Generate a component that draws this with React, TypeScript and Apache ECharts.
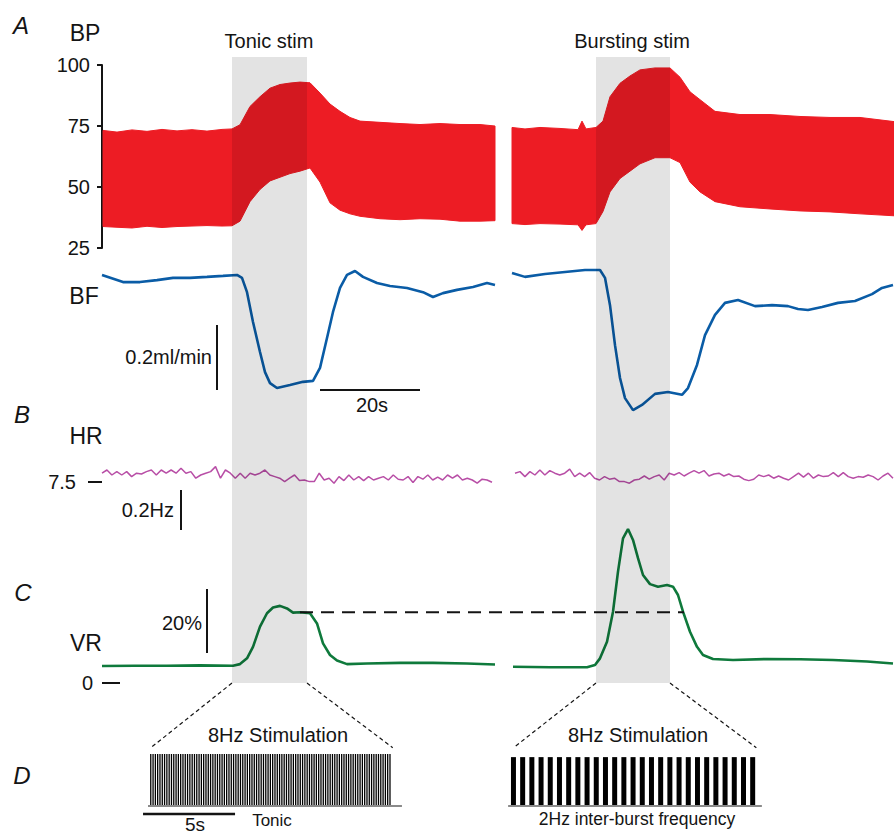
import React, { useEffect, useRef } from "react";
import * as echarts from "echarts";

const FONT = "'Liberation Sans', Arial, Helvetica, sans-serif";
const INK = "#141414";
const RED = "#ed1c24";
const BLUE = "#0a5ca6";
const MAGENTA = "#b84ea6";
const GREEN = "#0f7a3c";

// ---------- time base of the recordings (s) ----------
const TRACE_T_MAX = 158.4;
const stimWindows = [
  [26, 41],
  [98.8, 113.6],
];

// ---------- A: blood pressure (mmHg), systolic / diastolic envelopes ----------
const bpTonicT = [0.2, 3, 6, 9, 12, 15, 18, 21, 24, 26, 27.6, 29.6, 31.6, 33.6, 35.6, 37.6, 39.6, 41.6, 43.6, 45.6, 47.6, 49.6, 51.6, 55.6, 59.6, 63.6, 67.6, 71.6, 75.6, 78.6];
const bpTonicSys = [73.2, 72.5, 73.4, 72.8, 73.6, 73.0, 73.5, 72.9, 73.6, 73.8, 75.5, 83, 87, 90.5, 92, 92.6, 93, 92.7, 88.5, 84, 81, 78.5, 77, 76.5, 76, 75.6, 76, 75.6, 75.6, 75];
const bpTonicDia = [33.8, 33.5, 33.2, 33.9, 33.4, 33.8, 34.0, 34.2, 34.0, 34.1, 36, 44, 49, 52.5, 54, 55.5, 56.5, 57.8, 52, 43.5, 40.5, 39, 38, 37, 36.6, 37, 36.8, 36, 36, 36.2];

const bpBurstT = [82, 84.6, 87.6, 91.6, 95.2, 96, 96.8, 98.8, 100.2, 101.6, 103.6, 105.6, 107.6, 110.6, 113.6, 115.6, 117.6, 119.6, 122.6, 127.6, 133.6, 139.6, 145.6, 151.6, 158.4];
const bpBurstSys = [74.4, 73.8, 74.4, 74.0, 73.5, 77, 73.8, 74.4, 77, 87, 92.5, 95.5, 98, 98.8, 98.8, 95, 89, 85.8, 81, 79.7, 79.7, 78.9, 78.5, 78.5, 76.8];
const bpBurstDia = [35, 34.6, 35, 34.8, 34.5, 32.2, 34.5, 35, 40, 48, 53.5, 56.5, 59.5, 62, 62, 60, 52, 48, 44, 41.9, 41, 40.2, 39.8, 39, 38.2];

// ---------- A: blood flow (ml/min) ----------
const bfTonicT = [0, 4.2, 7.6, 11, 14.2, 17.6, 21, 24.2, 27, 28, 29, 30.2, 31.6, 32.6, 33.6, 35, 37.6, 40.2, 42.2, 43.6, 45, 46.2, 47.6, 49, 50.6, 52.2, 55, 57.6, 61, 64.2, 66.2, 68.2, 71, 74.2, 77, 78.6];
const bfTonic = [0.431, 0.409, 0.409, 0.415, 0.422, 0.422, 0.425, 0.428, 0.431, 0.422, 0.378, 0.286, 0.194, 0.132, 0.098, 0.083, 0.092, 0.102, 0.105, 0.145, 0.237, 0.317, 0.391, 0.431, 0.443, 0.425, 0.406, 0.397, 0.391, 0.378, 0.363, 0.375, 0.385, 0.394, 0.406, 0.4];
const bfBurstT = [82, 84.6, 88.6, 92.6, 96.6, 99.6, 100.6, 101.6, 102.6, 103.6, 104.6, 106.2, 108, 110.6, 113.2, 116, 117.2, 119, 120.6, 122.6, 124.6, 127.2, 130.6, 134, 137.2, 139.2, 141.2, 144, 147.2, 150.6, 154, 156, 158.2];
const bfBurst = [0.437, 0.425, 0.434, 0.44, 0.446, 0.446, 0.422, 0.338, 0.215, 0.114, 0.052, 0.015, 0.031, 0.065, 0.071, 0.062, 0.083, 0.154, 0.246, 0.308, 0.345, 0.354, 0.335, 0.338, 0.335, 0.326, 0.323, 0.332, 0.345, 0.351, 0.372, 0.391, 0.4];

// ---------- B: heart rate (Hz), sampled evenly over each recording ----------
const hrTonicSpan = [0, 78];
const hrTonic = [
  7.544, 7.56, 7.535, 7.552, 7.535, 7.552, 7.527, 7.544, 7.54, 7.552,
  7.56, 7.535, 7.56, 7.544, 7.56, 7.544, 7.569, 7.544, 7.552, 7.519,
  7.535, 7.544, 7.552, 7.577, 7.519, 7.56, 7.544, 7.519, 7.544, 7.519,
  7.544, 7.535, 7.544, 7.56, 7.535, 7.527, 7.519, 7.502, 7.519, 7.535,
  7.507, 7.51, 7.502, 7.502, 7.544, 7.51, 7.519, 7.494, 7.527, 7.507,
  7.535, 7.51, 7.527, 7.507, 7.527, 7.51, 7.519, 7.527, 7.51, 7.535,
  7.514, 7.51, 7.527, 7.497, 7.527, 7.514, 7.535, 7.51, 7.524, 7.51,
  7.535, 7.519, 7.535, 7.51, 7.519, 7.51, 7.494, 7.514, 7.51, 7.499,
];
const hrBurstSpan = [82.6, 158.2];
const hrBurst = [
  7.544, 7.552, 7.527, 7.552, 7.535, 7.56, 7.535, 7.557, 7.544, 7.535,
  7.544, 7.564, 7.527, 7.544, 7.527, 7.547, 7.519, 7.51, 7.527, 7.514,
  7.519, 7.502, 7.502, 7.494, 7.51, 7.514, 7.53, 7.514, 7.527, 7.535,
  7.51, 7.544, 7.535, 7.547, 7.53, 7.544, 7.557, 7.544, 7.557, 7.53,
  7.54, 7.544, 7.53, 7.54, 7.527, 7.53, 7.514, 7.507, 7.514, 7.535,
  7.527, 7.535, 7.519, 7.53, 7.519, 7.51, 7.527, 7.544, 7.524, 7.544,
  7.519, 7.535, 7.527, 7.53, 7.547, 7.527, 7.547, 7.527, 7.519, 7.527,
  7.524, 7.535, 7.527, 7.51, 7.53, 7.544, 7.519,
];

// ---------- C: vascular resistance (% change) ----------
const vrTonicT = [0, 6.6, 13, 19.6, 26.2, 27.6, 29, 30.2, 31.6, 33, 34.2, 35.6, 37, 38.2, 39.6, 41.6, 43, 44.2, 45.6, 47, 49, 53, 59.6, 66.2, 73, 78.6];
const vrTonic = [5.3, 5.4, 5.4, 5.5, 5.4, 5.9, 7.7, 11.3, 17.6, 21.8, 23.6, 24.1, 23.3, 22.0, 22.1, 21.8, 18.6, 12.4, 8.75, 7.0, 5.9, 6.1, 6.3, 6.3, 6.1, 5.8];
const vrBurstT = [82.2, 89.6, 97, 98.6, 99.6, 101, 102.2, 103.2, 104.2, 105.2, 106.2, 107.2, 108.2, 109.6, 111.2, 113, 114.2, 115.2, 116.2, 117.6, 119, 120.2, 122.2, 126.2, 133, 139.6, 146.2, 153, 158.2];
const vrBurst = [5.1, 4.9, 4.9, 5.6, 7.7, 12.9, 22.3, 34.8, 45.2, 48.1, 44.7, 39.0, 33.75, 30.9, 30.1, 30.6, 30.1, 27.5, 22.3, 16.0, 11.3, 8.75, 7.5, 7.2, 7.5, 7.4, 7.2, 6.7, 6.1];
const vrTonicPlateau = 22.1;
const vrPlateauSpan = [39.6, 116.4];

// ---------- scale bars ----------
const bfBar = { t: 23, from: 0.077, size: 0.2 };
const timeBar = { from: 43.6, size: 20, level: 0.077 };
const hrBar = { t: 15.8, from: 7.26, size: 0.2 };
const vrBar = { t: 21, from: 9.4, size: 20 };

// ---------- D: stimulation protocols (s on the D time axis) ----------
const D_T_MAX = 43.04;
const tonicTrainStart = 2.65;
const tonicRateHz = 8;
const tonicPulseCount = 105;
const burstTrainStart = 22.36;
const burstRateHz = 2;
const burstCount = 27;
const burstHeight = 0.94;
const dScaleBar = { from: 2.23, size: 5, level: -0.154 };

const tonicPulseTimes = Array.from({ length: tonicPulseCount }, (_, i) => tonicTrainStart + i / tonicRateHz);
const burstTimes = Array.from({ length: burstCount }, (_, i) => burstTrainStart + i / burstRateHz);

const pairs = (t: number[], v: (number | null)[]) => t.map((x, i) => [x, v[i]]);
const evenPairs = (span: number[], v: number[]) =>
  v.map((y, i) => [span[0] + ((span[1] - span[0]) * i) / (v.length - 1), y]);

const hidden = { show: false };

function line(grid: number, data: any[], color: string, width: number, extra: any = {}) {
  return {
    type: "line",
    xAxisIndex: grid,
    yAxisIndex: grid,
    data,
    symbol: "none",
    silent: true,
    ...extra,
    lineStyle: { color, width, ...(extra.lineStyle || {}) },
  };
}

// BP drawn as the band between the diastolic and systolic envelopes
function bpBand(t: number[], sys: number[], dia: number[]) {
  return {
    type: "custom",
    xAxisIndex: 1,
    yAxisIndex: 1,
    silent: true,
    z: 2,
    data: t.map((x, i) => [x, sys[i], dia[i]]),
    encode: { x: 0, y: [1, 2] },
    renderItem: (params: any, api: any) => {
      if (params.dataIndex !== 0) return null;
      const pts: number[][] = [];
      for (let i = 0; i < t.length; i++) pts.push(api.coord([t[i], sys[i]]));
      for (let i = t.length - 1; i >= 0; i--) pts.push(api.coord([t[i], dia[i]]));
      return {
        type: "polygon",
        shape: { points: pts },
        style: { fill: RED, stroke: RED, lineWidth: 1 },
      };
    },
  };
}

function txt(text: string, x: number, y: number, size: number, align = "center", extra: any = {}) {
  return {
    type: "text",
    x,
    y,
    silent: true,
    style: {
      text,
      fill: INK,
      fontSize: size,
      fontFamily: FONT,
      textAlign: align,
      textVerticalAlign: "middle",
      ...extra,
    },
  };
}

export default function App() {
  const ref = useRef<HTMLDivElement>(null);

  useEffect(() => {
    if (!ref.current) return;
    const chart = echarts.init(ref.current, null, { renderer: "svg" });

    const grids = [
      { left: 102, width: 792, top: 57, height: 626 }, // 0 stimulus shading
      { left: 102, width: 792, top: 65, height: 183 }, // 1 BP
      { left: 102, width: 792, top: 259, height: 156 }, // 2 BF
      { left: 102, width: 792, top: 440, height: 100 }, // 3 HR
      { left: 102, width: 792, top: 523, height: 160 }, // 4 VR
      { left: 102, width: 792, top: 754, height: 78 }, // 5 D tonic
      { left: 102, width: 792, top: 754, height: 78 }, // 6 D burst
    ];

    const xAxis = grids.map((_, i) => ({
      type: "value",
      gridIndex: i,
      min: 0,
      max: i >= 5 ? D_T_MAX : TRACE_T_MAX,
      show: false,
    }));

    const labelBase = { color: INK, fontSize: 20, fontFamily: FONT };
    const yAxis: any[] = [
      { type: "value", gridIndex: 0, min: 0, max: 1, show: false },
      {
        type: "value",
        gridIndex: 1,
        min: 25,
        max: 100,
        interval: 25,
        offset: 2,
        axisLine: { show: true, lineStyle: { color: INK, width: 2 } },
        axisTick: { show: true, length: 5, lineStyle: { color: INK, width: 2 } },
        axisLabel: { ...labelBase, margin: 10 },
        splitLine: hidden,
      },
      { type: "value", gridIndex: 2, min: 0, max: 0.48, show: false },
      {
        type: "value",
        gridIndex: 3,
        min: 7.21,
        max: 7.71,
        offset: 9,
        axisLine: { show: false },
        axisTick: { show: true, customValues: [7.5], length: 14, lineStyle: { color: INK, width: 2 } },
        axisLabel: { ...labelBase, customValues: [7.5], margin: 17, formatter: (v: number) => v.toFixed(1) },
        splitLine: hidden,
      },
      {
        type: "value",
        gridIndex: 4,
        min: 0,
        max: 50,
        offset: 2,
        axisLine: { show: false },
        axisTick: { show: true, inside: true, customValues: [0], length: 18, lineStyle: { color: INK, width: 2 } },
        axisLabel: { ...labelBase, customValues: [0], margin: 7 },
        splitLine: hidden,
      },
      { type: "value", gridIndex: 5, min: -0.5, max: 1, show: false },
      { type: "value", gridIndex: 6, min: -0.5, max: 1, show: false },
    ];

    const series: any[] = [
      // stimulus shading, translucent so it darkens the traces beneath it
      {
        type: "custom",
        xAxisIndex: 0,
        yAxisIndex: 0,
        silent: true,
        z: 50,
        data: stimWindows,
        encode: { x: [0, 1] },
        renderItem: (_params: any, api: any) => {
          const a = api.coord([api.value(0), 1]);
          const b = api.coord([api.value(1), 0]);
          return {
            type: "rect",
            shape: { x: a[0], y: a[1], width: b[0] - a[0], height: b[1] - a[1] },
            style: { fill: "rgba(0,0,0,0.11)" },
          };
        },
      },
      bpBand(bpTonicT, bpTonicSys, bpTonicDia),
      bpBand(bpBurstT, bpBurstSys, bpBurstDia),
      line(2, pairs(bfTonicT, bfTonic), BLUE, 2.6),
      line(2, pairs(bfBurstT, bfBurst), BLUE, 2.6),
      line(2, [[bfBar.t, bfBar.from], [bfBar.t, bfBar.from + bfBar.size]], INK, 2),
      line(2, [[timeBar.from, timeBar.level], [timeBar.from + timeBar.size, timeBar.level]], INK, 2),
      line(3, evenPairs(hrTonicSpan, hrTonic), MAGENTA, 1.5),
      line(3, evenPairs(hrBurstSpan, hrBurst), MAGENTA, 1.5),
      line(3, [[hrBar.t, hrBar.from], [hrBar.t, hrBar.from + hrBar.size]], INK, 2),
      line(4, pairs(vrTonicT, vrTonic), GREEN, 2.6),
      line(4, pairs(vrBurstT, vrBurst), GREEN, 2.6),
      line(4, [[vrBar.t, vrBar.from], [vrBar.t, vrBar.from + vrBar.size]], INK, 2),
      line(
        4,
        [
          [vrPlateauSpan[0], vrTonicPlateau],
          [vrPlateauSpan[1], vrTonicPlateau],
        ],
        INK,
        2,
        { z: 3, lineStyle: { type: [13, 8] } }
      ),
      // D: baselines, scale bar, pulse trains
      line(5, [[tonicPulseTimes[0] - 0.15, 0], [tonicPulseTimes[tonicPulseTimes.length - 1] + 0.65, 0]], "#8a8a8a", 2),
      line(6, [[burstTimes[0] - 0.29, 0], [burstTimes[burstTimes.length - 1] + 0.5, 0]], "#8a8a8a", 2),
      line(5, [[dScaleBar.from, dScaleBar.level], [dScaleBar.from + dScaleBar.size, dScaleBar.level]], INK, 2.5),
      {
        type: "bar",
        xAxisIndex: 5,
        yAxisIndex: 5,
        data: tonicPulseTimes.map((t) => [t, 1]),
        barWidth: 1.3,
        silent: true,
        z: 3,
        itemStyle: { color: "#000" },
      },
      {
        type: "bar",
        xAxisIndex: 6,
        yAxisIndex: 6,
        data: burstTimes.map((t) => [t, burstHeight]),
        barWidth: 5,
        silent: true,
        z: 3,
        itemStyle: { color: "#000" },
      },
    ];

    chart.setOption({
      animation: false,
      backgroundColor: "#ffffff",
      textStyle: { fontFamily: FONT },
      grid: grids,
      xAxis,
      yAxis,
      series,
    });

    const toPx = (g: number, p: number[]) => chart.convertToPixel({ gridIndex: g }, p) as number[];
    const connectorTop = 1.12;
    const connectors = [
      [toPx(0, [stimWindows[0][0], 0]), toPx(5, [tonicPulseTimes[0], connectorTop])],
      [toPx(0, [stimWindows[0][1], 0]), toPx(5, [tonicPulseTimes[tonicPulseTimes.length - 1] + 0.15, connectorTop])],
      [toPx(0, [stimWindows[1][0], 0]), toPx(6, [burstTimes[0], connectorTop])],
      [toPx(0, [stimWindows[1][1], 0]), toPx(6, [burstTimes[burstTimes.length - 1] + 0.2, connectorTop])],
    ].map(([a, b]) => ({
      type: "line",
      silent: true,
      shape: { x1: a[0], y1: a[1], x2: b[0], y2: b[1] },
      style: { stroke: INK, lineWidth: 1.2, lineDash: [4, 3] },
    }));

    const italic = { fontStyle: "italic" };
    chart.setOption({
      graphic: {
        elements: [
          txt("A", 21, 25, 24, "center", italic),
          txt("BP", 85, 33, 23),
          txt("Tonic stim", 269, 41, 20),
          txt("Bursting stim", 632, 41, 20),
          txt("BF", 84, 296, 23),
          txt("0.2ml/min", 212, 357, 20, "right"),
          txt("20s", 372, 405, 20),
          txt("B", 22, 414, 24, "center", italic),
          txt("HR", 86, 436, 23),
          txt("0.2Hz", 174, 510, 20, "right"),
          txt("C", 23, 592, 24, "center", italic),
          txt("20%", 202, 623, 20, "right"),
          txt("VR", 86, 643, 23),
          txt("D", 22, 775, 24, "center", italic),
          txt("8Hz Stimulation", 278, 735, 20),
          txt("8Hz Stimulation", 638, 735, 20),
          txt("5s", 195, 824, 19),
          txt("Tonic", 272, 820, 17),
          txt("2Hz inter-burst frequency", 637, 819, 17.5),
          ...connectors,
        ],
      },
    });

    return () => chart.dispose();
  }, []);

  return (
    <div
      ref={ref}
      style={{ position: "absolute", left: 0, top: 0, width: 894, height: 834, background: "#fff" }}
    />
  );
}
